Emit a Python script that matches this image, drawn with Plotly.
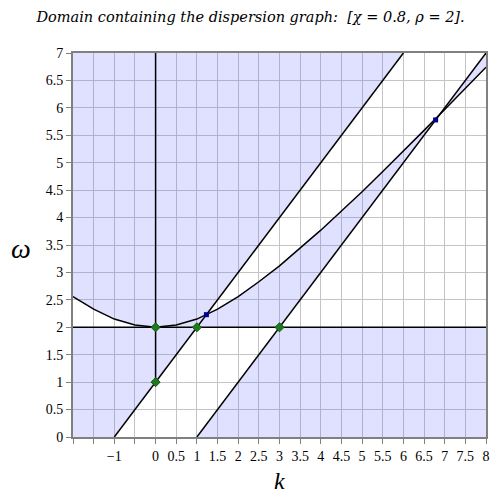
import plotly.graph_objects as go

# axis window
k_range = [-2, 8]
w_range = [0, 7]

# dispersion curve
curve_k = [-2, -1.5, -1, -0.5, 0, 0.5, 1, 1.5, 2, 2.5, 3, 3.5, 4, 4.5, 5, 5.5, 6, 6.5, 7, 7.5, 8]
curve_w = [2.56, 2.33, 2.15, 2.04, 2.0, 2.04, 2.15, 2.33, 2.56, 2.83, 3.12, 3.44, 3.77,
           4.12, 4.47, 4.84, 5.21, 5.59, 5.97, 6.35, 6.74]

# straight lines
upper_k = [-1, 6]
upper_w = [0, 7]
lower_k = [1, 8]
lower_w = [0, 7]
vert_k = [0, 0]
vert_w = [1, 7]
horiz_k = [-2, 8]
horiz_w = [2, 2]

# marked points
green_k = [0, 1, 0, 3]
green_w = [2, 2, 1, 2]
blue_k = [1.23, 6.78]
blue_w = [2.23, 5.78]

x_ticks = [-2 + 0.5 * i for i in range(21)]
x_labels = ["", "", "\u22121", "", "0", "0.5", "1", "1.5", "2", "2.5", "3", "3.5", "4",
            "4.5", "5", "5.5", "6", "6.5", "7", "7.5", "8"]
y_ticks = [0.5 * i for i in range(15)]
y_labels = ["0", "0.5", "1", "1.5", "2", "2.5", "3", "3.5", "4", "4.5", "5", "5.5", "6", "6.5", "7"]

fill = "rgba(102,102,255,0.2)"
serif = "Liberation Serif"

fig = go.Figure()

# shaded parts of the domain
i0 = curve_k.index(0)
inner = [i for i, k in enumerate(curve_k) if blue_k[0] < k < blue_k[1]]
outer = [i for i, k in enumerate(curve_k) if k > blue_k[1]]

regions = [
    ([k_range[0], upper_k[0], upper_k[1], k_range[0]] + curve_k[:i0 + 1] + [k_range[0]],
     [w_range[0], upper_w[0], upper_w[1], w_range[1]] + curve_w[:i0 + 1] + [horiz_w[0]]),
    ([green_k[1], blue_k[0]] + [curve_k[i] for i in inner] + [blue_k[1], green_k[3]],
     [green_w[1], blue_w[0]] + [curve_w[i] for i in inner] + [blue_w[1], green_w[3]]),
    ([blue_k[1], lower_k[1]] + [curve_k[i] for i in reversed(outer)],
     [blue_w[1], lower_w[1]] + [curve_w[i] for i in reversed(outer)]),
    ([lower_k[0], k_range[1], k_range[1], green_k[3]],
     [lower_w[0], w_range[0], horiz_w[1], green_w[3]]),
]
for rk, rw in regions:
    fig.add_trace(go.Scatter(x=rk, y=rw, mode="none", fill="toself", fillcolor=fill,
                             hoverinfo="skip", showlegend=False))

line_style = dict(color="black", width=1.5)
for lk, lw in [(vert_k, vert_w), (horiz_k, horiz_w), (upper_k, upper_w), (lower_k, lower_w),
               (curve_k, curve_w)]:
    fig.add_trace(go.Scatter(x=lk, y=lw, mode="lines", line=line_style, showlegend=False))

fig.add_trace(go.Scatter(x=green_k, y=green_w, mode="markers", showlegend=False,
                         marker=dict(symbol="diamond", size=7, color="#1f7a1f",
                                     line=dict(color="#0f5a0f", width=1))))
fig.add_trace(go.Scatter(x=blue_k, y=blue_w, mode="markers", showlegend=False,
                         marker=dict(symbol="square", size=5, color="#000090")))

axis_style = dict(showline=True, mirror=True, linecolor="#808080", linewidth=2,
                  showgrid=True, gridcolor="#c4c4c4", gridwidth=1, zeroline=False,
                  ticks="outside", ticklen=5, tickcolor="#808080",
                  tickfont=dict(family=serif, size=14, color="black"))

fig.update_xaxes(range=k_range, tickvals=x_ticks, ticktext=x_labels, **axis_style)
fig.update_yaxes(range=w_range, tickvals=y_ticks, ticktext=y_labels, **axis_style)

# page body adds an 8px offset, so the figure is a bit smaller than the window
fig.update_layout(
    width=492, height=492,
    margin=dict(l=65, r=10, t=45, b=63),
    plot_bgcolor="white", paper_bgcolor="white",
    title=dict(text="Domain containing the dispersion graph:  [\u03c7 = 0.8, \u03c1 = 2].",
               x=0.493, xanchor="center", y=0.982, yanchor="middle",
               font=dict(family="DejaVu Serif", size=14.5, style="italic", color="black")),
    annotations=[
        dict(text="k", xref="paper", yref="paper", x=0.5, y=-0.115, yanchor="middle",
             showarrow=False,
             font=dict(family=serif, size=24, style="italic", color="black")),
        dict(text="\u03c9", xref="paper", yref="paper", x=-0.125, y=0.49, xanchor="center",
             yanchor="middle", showarrow=False,
             font=dict(family=serif, size=28, style="italic", color="black")),
    ],
)

fig.write_html("out.html")
